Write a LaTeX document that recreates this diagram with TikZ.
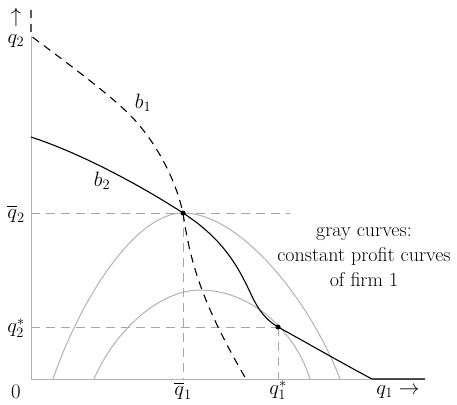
\documentclass[tikz,border=0pt]{standalone}
\usepackage{amsmath}
\begin{document}
\begin{tikzpicture}[x=1pt,y=-1pt,
  axis/.style={draw=black!30,line width=1pt},
  guide/.style={draw=black!35,line width=0.9pt,dash pattern=on 9pt off 6pt},
  profit/.style={draw=black!30,line width=1pt},
  resp/.style={draw=black,line width=1.1pt},
  respdash/.style={draw=black,line width=1.1pt,dash pattern=on 8pt off 6pt},
  lbl/.style={font=\fontsize{20}{25}\selectfont,inner sep=0pt},
  eq/.style={circle,fill=black,inner sep=0pt,minimum size=5pt}]
\useasboundingbox (0,0) rectangle (457,404);
% axes
\coordinate (O) at (31,379);
\coordinate (Ytop) at (31,36);
\coordinate (Xend) at (425,379);
\draw[axis] (Ytop) -- (O) -- (Xend);
% equilibria
\coordinate (E1) at (183,213);
\coordinate (E2) at (278,327);
\coordinate (Y1) at (31,213);
\coordinate (Y2) at (31,327);
\coordinate (X1) at (183,379);
\coordinate (X2) at (278,379);
\coordinate (H1) at (290,213);
% guide lines
\draw[guide] (Y1) -- (H1);
\draw[guide] (Y2) -- (E2);
\draw[guide] (E1) -- (X1);
\draw[guide] (E2) -- (X2);
% constant profit curves
\draw[profit] (53,379) .. controls (80,300) and (135,213) .. (E1)
  .. controls (240,213) and (310,300) .. (340,379);
\draw[profit] (94,379) .. controls (115,330) and (160,290) .. (200,290)
  .. controls (250,290) and (295,330) .. (310,379);
% b1
\coordinate (B1top) at (31,10);
\draw[respdash] (B1top) -- (Ytop)
  .. controls (70,65) and (110,95) .. (130,115)
  .. controls (150,135) and (174,172) .. (E1)
  .. controls (190,260) and (200,300) .. (246,379);
% b2
\coordinate (B2start) at (31,137);
\draw[resp] (B2start) .. controls (80,153) and (140,185) .. (E1)
  .. controls (220,237) and (236,262) .. (250,292)
  .. controls (258,310) and (266,320) .. (E2)
  .. controls (300,339) and (340,362) .. (372,379) -- (Xend);
\node[eq] at (E1) {};
\node[eq] at (E2) {};
% labels
\node[lbl] (b1) at (143,103) {$b_1$};
\node[lbl] (b2) at (102,181) {$b_2$};
\node[lbl] (yarrow) at (16,17) {$\uparrow$};
\node[lbl] (yl) at (16,41) {$q_2$};
\node[lbl] (yb) at (16,214) {$\overline{q}_2$};
\node[lbl] (ys) at (16,328) {$q_2^*$};
\node[lbl] (zero) at (16,392) {$0$};
\node[lbl] (xb) at (183,391) {$\overline{q}_1$};
\node[lbl] (xs) at (278,390) {$q_1^*$};
\node[lbl] (xl) at (398,392) {$q_1 \rightarrow$};
\node[lbl,align=center] (note) at (364,257) {gray curves:\\constant profit curves\\of firm 1};
\end{tikzpicture}
\end{document}
